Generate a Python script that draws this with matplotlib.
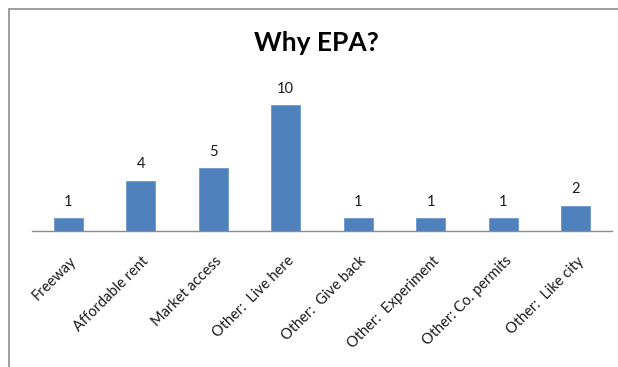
import matplotlib
matplotlib.use("Agg")
import matplotlib.pyplot as plt
import matplotlib.transforms as mtransforms
from matplotlib.patches import Rectangle

categories = ["Freeway", "Affordable rent", "Market access", "Other:  Live here",
              "Other:  Give back", "Other:  Experiment", "Other: Co. permits",
              "Other:  Like city"]
counts = [1, 4, 5, 10, 1, 1, 1, 2]

plt.rcParams["font.family"] = ["Lato", "DejaVu Sans"]

fig = plt.figure(figsize=(6.18, 3.67), dpi=100)
fig.patch.set_facecolor("white")

# chart frame (clipped at right/bottom edges)
fig.add_artist(Rectangle((9 / 618, -0.05), 1.1, 1 - 9 / 367 + 0.05,
                         transform=fig.transFigure, fill=False,
                         edgecolor="#8c8c8c", linewidth=1.2))

ax = fig.add_axes([32 / 618, 1 - 231 / 367, 580 / 618, 151 / 367])
x = list(range(len(categories)))
ax.bar(x, counts, width=0.4, color="#4F81BD", edgecolor="#6f97cc",
       linewidth=0.6)
for xi, v in zip(x, counts):
    ax.text(xi, v + 0.75, str(v), ha="center", va="bottom", fontsize=10.5,
            color="#1a1a1a")

ax.set_xlim(-0.5, len(categories) - 0.5)
ax.set_ylim(0, 12)
ax.set_yticks([])
ax.set_xticks(x)
ax.set_xticklabels([])
ax.tick_params(axis="x", length=0)

# category labels, rotated and hung just below the axis line
label_tf = ax.get_xaxis_transform() + mtransforms.ScaledTranslation(
    1 / 100, -23 / 100, fig.dpi_scale_trans)
for xi, name in zip(x, categories):
    ax.text(xi, 0, name, transform=label_tf, rotation=45, ha="right",
            va="top", rotation_mode="anchor", fontsize=10.5, color="#1a1a1a")

for s in ("top", "right", "left"):
    ax.spines[s].set_visible(False)
ax.spines["bottom"].set_color("#8c8c8c")
ax.spines["bottom"].set_linewidth(1.0)

fig.text(316 / 618, 1 - 43 / 367, "Why EPA?", ha="center", va="center",
         fontsize=19, fontweight="bold", color="#000000")

fig.savefig("out.png", dpi=100)
